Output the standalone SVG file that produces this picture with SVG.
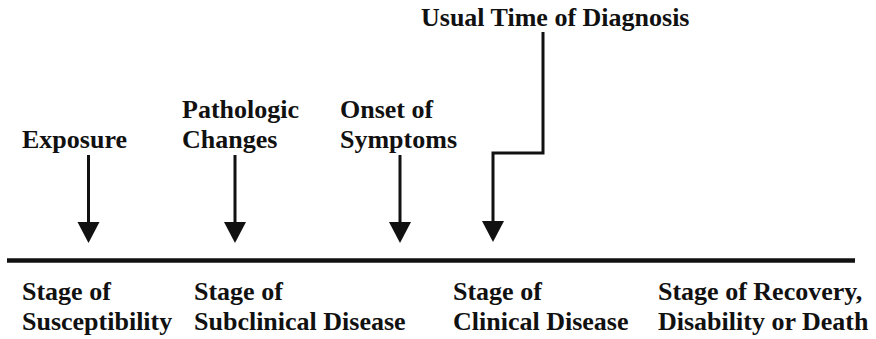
<svg xmlns="http://www.w3.org/2000/svg" width="876" height="339" viewBox="0 0 876 339">
  <style>
    .lbl { font-family: "Liberation Serif", "Times New Roman", serif; font-weight: bold; font-size: 26px; fill: #111; }
    .wire { fill: none; stroke: #111; stroke-width: 3; }
    .axis { fill: none; stroke: #111; stroke-width: 4.5; }
    .head { fill: #111; }
  </style>
  <defs>
    <polygon id="tip" class="head" points="-11,0 11,0 0,21"/>
  </defs>

  <!-- timeline -->
  <g id="timeline">
    <line class="axis" x1="7" y1="260.5" x2="855" y2="260.5"/>
  </g>

  <!-- events above the timeline -->
  <g id="exposure">
    <text class="lbl" x="22" y="148">Exposure</text>
  </g>
  <g id="pathologic-changes">
    <text class="lbl" x="182" y="118">Pathologic</text>
    <text class="lbl" x="182" y="148">Changes</text>
  </g>
  <g id="onset-of-symptoms">
    <text class="lbl" x="340" y="118">Onset of</text>
    <text class="lbl" x="340" y="148">Symptoms</text>
  </g>
  <g id="usual-time-of-diagnosis">
    <text class="lbl" x="421" y="26">Usual Time of Diagnosis</text>
  </g>

  <!-- stages below the timeline -->
  <g id="stage-susceptibility">
    <text class="lbl" x="22" y="300">Stage of</text>
    <text class="lbl" x="22" y="330">Susceptibility</text>
  </g>
  <g id="stage-subclinical">
    <text class="lbl" x="194" y="300">Stage of</text>
    <text class="lbl" x="194" y="330">Subclinical Disease</text>
  </g>
  <g id="stage-clinical">
    <text class="lbl" x="453" y="300">Stage of</text>
    <text class="lbl" x="453" y="330">Clinical Disease</text>
  </g>
  <g id="stage-recovery">
    <text class="lbl" x="658" y="300">Stage of Recovery,</text>
    <text class="lbl" x="658" y="330">Disability or Death</text>
  </g>

  <!-- connectors -->
  <g id="connectors">
    <line class="wire" x1="88.5" y1="155" x2="88.5" y2="224"/>
    <use href="#tip" x="88.5" y="222"/>
    <line class="wire" x1="235" y1="155" x2="235" y2="224"/>
    <use href="#tip" x="235" y="222"/>
    <line class="wire" x1="400" y1="155" x2="400" y2="224"/>
    <use href="#tip" x="400" y="222"/>
    <polyline class="wire" points="543,32 543,153 493,153 493,224"/>
    <use href="#tip" x="493" y="221"/>
  </g>
</svg>
